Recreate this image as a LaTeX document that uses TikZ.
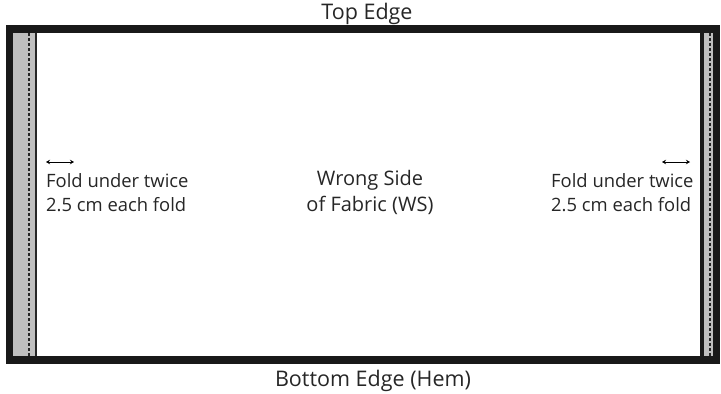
\documentclass[tikz,border=0pt]{standalone}
\usepackage{fontspec}
\setmainfont{Open Sans}
\usetikzlibrary{positioning,arrows.meta}

\begin{document}
\begin{tikzpicture}[%
x=1pt,
y=-1pt,
>={Stealth[length=4pt,width=4.5pt]},
lbl/.style={
font=\fontsize{18.4}{24}\selectfont,
inner sep=0pt,
text=black!85,},
edgetxt/.style={
lbl,
font=\fontsize{21.5}{26}\selectfont,},
foldtxt/.style={
lbl,
align=left,
anchor=north west,},
strip/.style={
fill=black!25,
draw=none,},
seam/.style={
line width=1.4pt,
dash pattern=on 3pt off 2pt,
black!85,},
]
\useasboundingbox (0,0) rectangle (721,394);
% folded side strips
\fill[strip] (13,33) rectangle (35,356);
\fill[strip] (704,33) rectangle (713,356);
\draw[seam] (29,33) -- (29,356);
\draw[seam] (710,33) -- (710,356);
\draw[line width=1.3pt,black!85] (36,33) -- (36,356);
\draw[line width=4pt,black!90] (702,33) -- (702,356);
% fabric edge
\draw[line width=7.5pt,black!90] (9.5,29) rectangle (716.5,360);
\node[edgetxt] (top) at (367,14) {Top Edge};
\node[edgetxt] (bottom) at (373,381) {Bottom Edge (Hem)};
\node[lbl,font=\fontsize{20}{26}\selectfont,align=center] (ws) at (370,192) {Wrong Side\\of Fabric (WS)};
\node[foldtxt] (foldl) at (46,173) {Fold under twice\\2.5 cm each fold};
\node[foldtxt] (foldr) at (551,173) {Fold under twice\\2.5 cm each fold};
\coordinate (la) at (46,162);
\coordinate (lb) at (74,162);
\coordinate (ra) at (662,162);
\coordinate (rb) at (690,162);
\draw[<->,line width=1pt] (la) -- (lb);
\draw[<->,line width=1pt] (ra) -- (rb);
\end{tikzpicture}
\end{document}
